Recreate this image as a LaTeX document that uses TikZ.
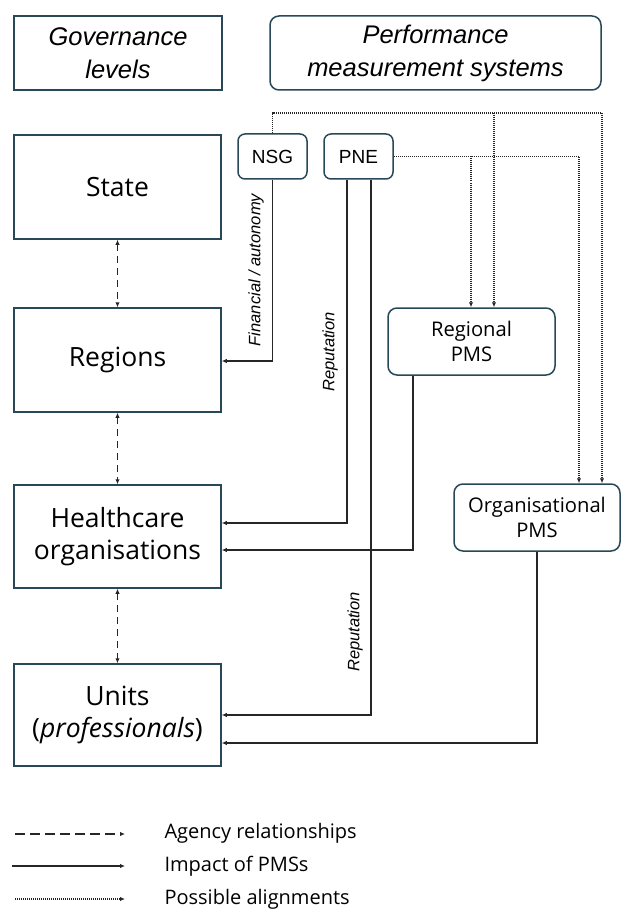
\documentclass[tikz,border=0pt]{standalone}
\usepackage{fontspec}
\setmainfont{Open Sans}
\newfontfamily\arialf{Liberation Sans}
\usetikzlibrary{arrows.meta}
\definecolor{boxc}{RGB}{40,72,88}
\begin{document}
\begin{tikzpicture}[x=1pt,y=-1pt,
  lvl/.style={draw=boxc,line width=1.5pt,align=center,inner sep=0pt},
  pms/.style={draw=boxc,line width=1.5pt,rounded corners=9pt,align=center,inner sep=0pt},
  tip/.style={-{Latex[length=5pt,width=4.5pt]}},
  imp/.style={draw=black!85,line width=1.2pt,tip},
  agc/.style={draw=black!85,line width=1.2pt,dash pattern=on 7pt off 5pt,{Latex[length=5pt,width=4.5pt]}-{Latex[length=5pt,width=4.5pt]}},
  aln/.style={draw=black!85,line width=1.2pt,dash pattern=on 1pt off 1pt,tip},
  lvf/.style={font=\fontsize{26.5}{32}\selectfont},
  hdf/.style={font=\arialf\itshape\fontsize{25.5}{33}\selectfont},
  pmf/.style={font=\fontsize{20.2}{25}\selectfont},
  lgf/.style={font=\fontsize{20}{23}\selectfont,anchor=west},
  rl/.style={font=\arialf\itshape\fontsize{16.5}{18}\selectfont,rotate=90,inner sep=1pt}]
\useasboundingbox (0,0) rectangle (627,920);
% left column
\node[lvl,hdf,minimum width=208pt,minimum height=74pt] (gov) at (118,53) {Governance\\levels};
\node[lvl,lvf,minimum width=207pt,minimum height=104pt] (state) at (117.5,187) {State};
\node[lvl,lvf,minimum width=207pt,minimum height=104pt] (reg) at (117.5,360) {Regions};
\node[lvl,lvf,minimum width=207pt,minimum height=103pt] (ho) at (117.5,536.5) {Healthcare\\organisations};
\node[lvl,lvf,minimum width=207pt,minimum height=102pt] (units) at (117.5,715) {Units\\(\textit{professionals})};
% PMS column
\node[pms,hdf,minimum width=331pt,minimum height=74pt] (pmsh) at (435.5,53) {Performance\\measurement systems};
\node[pms,minimum width=69pt,minimum height=45pt,rounded corners=7pt,font=\arialf\fontsize{19}{20}\selectfont] (nsg) at (272.5,156.5) {NSG};
\node[pms,minimum width=69pt,minimum height=45pt,rounded corners=7pt,font=\arialf\fontsize{19}{20}\selectfont] (pne) at (358.5,156.5) {PNE};
\node[pms,pmf,minimum width=167pt,minimum height=67pt] (rpms) at (471.5,341.5) {Regional\\PMS};
\node[pms,pmf,minimum width=166pt,minimum height=67pt] (opms) at (537,517.5) {Organisational\\PMS};
% agency
\draw[agc] (state.south) -- (reg.north);
\draw[agc] (reg.south) -- (ho.north);
\draw[agc] (ho.south) -- (units.north);
% impact
\draw[imp] (nsg.south) |- (reg.east |- 0,361);
\node[rl] at (256,270) {Financial / autonomy};
\draw[imp] (pne.south -| 347,0) |- (ho.east |- 0,523);
\node[rl] at (330,352) {Reputation};
\draw[imp] (pne.south -| 371,0) |- (units.east |- 0,715);
\node[rl] at (355,632) {Reputation};
\draw[imp] (rpms.south -| 413,0) |- (ho.east |- 0,550);
\draw[imp] (opms.south) |- (units.east |- 0,743);
% alignments
\coordinate (t1) at (494,113);
\coordinate (t2) at (471,156.5);
\draw[aln] (nsg.north) |- (602,113) -- (opms.north -| 602,0);
\draw[aln] (t1) -- (rpms.north -| t1);
\draw[aln] (pne.east) -| (opms.north -| 579,0);
\draw[aln] (t2) -- (rpms.north -| t2);
% legend
\coordinate (l1a) at (15,834); \coordinate (l1b) at (125,834);
\coordinate (l2a) at (12,866); \coordinate (l2b) at (125,866);
\coordinate (l3a) at (15,899); \coordinate (l3b) at (125,899);
\draw[draw=black!85,line width=1.2pt,dash pattern=on 10pt off 5pt,tip] (l1a) -- (l1b);
\draw[imp] (l2a) -- (l2b);
\draw[aln] (l3a) -- (l3b);
\node[lgf] (lg1) at (161,833) {Agency relationships};
\node[lgf] (lg2) at (161,866) {Impact of PMSs};
\node[lgf] (lg3) at (161,899) {Possible alignments};
\end{tikzpicture}
\end{document}
